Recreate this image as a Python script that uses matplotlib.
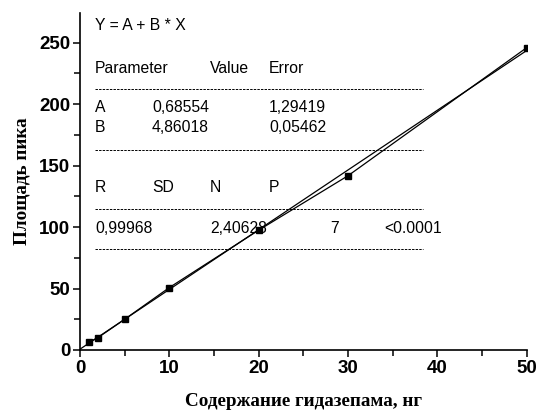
import matplotlib.pyplot as plt
import numpy as np
from matplotlib.ticker import MultipleLocator

# data
conc = [1, 2, 5, 10, 20, 30, 50]
area = [6.3, 10, 25, 50.8, 97.5, 141.8, 246]
fit_a = 0.68554
fit_b = 4.86018

# fit report table
param_rows = [("A", "0,68554", "1,29419"), ("B", "4,86018", "0,05462")]
stat_head = ["R", "SD", "N", "P"]
stat_vals = ["0,99968", "2,40628", "7", "<0.0001"]

fig = plt.figure(figsize=(5.37, 4.12), dpi=100)
ax = fig.add_axes([0.149, 0.1505, 0.832, 0.8175])

xfit = np.array([0, 50])
ax.plot(xfit, fit_a + fit_b * xfit, color='black', lw=0.9)
ax.plot(conc, area, color='black', lw=0.9, marker='s', ms=5)

ax.set_xlim(0, 50)
ax.set_ylim(0, 274)
for s in ['top', 'right']:
    ax.spines[s].set_visible(False)
ax.spines['left'].set_linewidth(1.2)
ax.spines['bottom'].set_linewidth(1.2)
ax.xaxis.set_major_locator(MultipleLocator(10))
ax.xaxis.set_minor_locator(MultipleLocator(5))
ax.yaxis.set_major_locator(MultipleLocator(50))
ax.yaxis.set_minor_locator(MultipleLocator(25))
ax.tick_params(which='both', direction='out', width=1.1)
ax.tick_params(which='major', length=5, pad=2)
ax.tick_params(which='minor', length=4)
for lab in ax.get_xticklabels() + ax.get_yticklabels():
    lab.set_fontfamily('Liberation Sans')
    lab.set_fontweight('bold')
    lab.set_fontsize(13.5)

ax.set_xlabel('Содержание гидазепама, нг', family='Liberation Serif',
              fontweight='bold', fontsize=13.8, labelpad=12)
ax.set_ylabel('Площадь пика', family='Liberation Serif',
              fontweight='bold', fontsize=13.8, labelpad=6)

# text block
tk = dict(transform=ax.transAxes, family='Liberation Sans', fontsize=11.3,
          va='center', ha='left')
cols = [0.034, 0.161, 0.291, 0.423]
ax.text(0.034, 0.964, "Y = A + B * X", **tk)
ax.text(cols[0], 0.837, "Parameter", **tk)
ax.text(cols[2], 0.837, "Value", **tk)
ax.text(cols[3], 0.837, "Error", **tk)
for row, yy in zip(param_rows, [0.721, 0.662]):
    ax.text(cols[0], yy, row[0], **tk)
    ax.text(cols[1], yy, row[1], **tk)
    ax.text(cols[3], yy, row[2], **tk)
for h, xx in zip(stat_head, cols):
    ax.text(xx, 0.481, h, **tk)
for v, xx in zip(stat_vals, [0.034, 0.291, 0.559, 0.682]):
    ax.text(xx, 0.362, v, **tk)
for yy in [0.774, 0.593, 0.418, 0.300]:
    ax.plot([0.034, 0.767], [yy, yy], transform=ax.transAxes, color='black',
            lw=0.7, ls=(0, (2.5, 1.2)))

fig.savefig('out.png', dpi=100)
